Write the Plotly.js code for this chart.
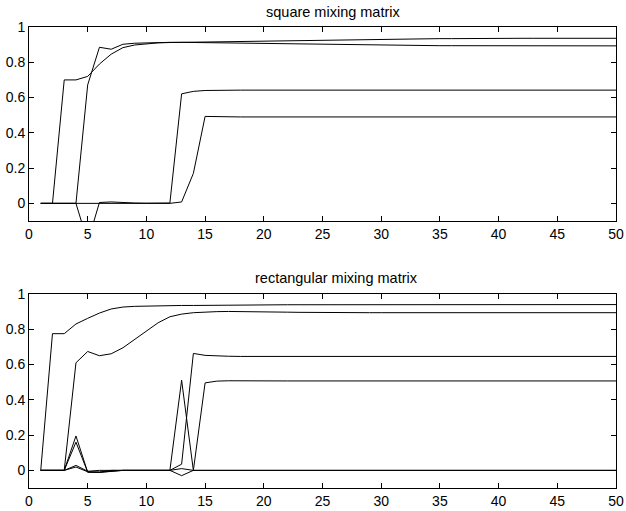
<!DOCTYPE html>
<html>
<head>
<meta charset="utf-8">
<script src="https://cdn.plot.ly/plotly-3.0.1.min.js"></script>
<style>html,body{margin:0;padding:0;background:#fff;}#chart{width:626px;height:511px;}</style>
</head>
<body>
<div id="chart"></div>
<script>
var iterations = [1,2,3,4,5,6,7,8,9,10,11,12,13,14,15,16,17,18,19,20,21,22,23,24,25,26,27,28,29,30,31,32,33,34,35,36,37,38,39,40,41,42,43,44,45,46,47,48,49,50];

var xTickVals = [0,5,10,15,20,25,30,35,40,45,50];
var yTickVals = [0,0.2,0.4,0.6,0.8,1];
var yTickText = ["0","0.2","0.4","0.6","0.8","1"];

var titleTop = "square mixing matrix";
var titleBottom = "rectangular mixing matrix";

// square mixing matrix
var sq1 = [0,0,0.70,0.70,0.72,0.79,0.846,0.883,0.898,0.906,
  0.910,0.912,0.913,0.914,0.915,0.916,0.917,0.919,0.920,0.922,
  0.923,0.924,0.925,0.926,0.927,0.928,0.929,0.930,0.931,0.932,
  0.932,0.933,0.933,0.934,0.934,0.934,0.935,0.935,0.935,0.935,
  0.936,0.936,0.936,0.936,0.936,0.936,0.936,0.936,0.936,0.936];
var sq2 = [0,0,0,0,0.672,0.885,0.874,0.902,0.908,0.911,
  0.912,0.913,0.913,0.912,0.911,0.910,0.909,0.908,0.907,0.906,
  0.905,0.904,0.903,0.902,0.901,0.900,0.899,0.898,0.897,0.896,
  0.896,0.895,0.895,0.894,0.894,0.894,0.894,0.893,0.893,0.893,
  0.893,0.893,0.893,0.893,0.893,0.893,0.893,0.893,0.893,0.893];
var sq3 = [0,0,0,0,-0.22,0.005,0.008,0.004,0.002,0.001,
  0.001,0.002,0.621,0.635,0.640,0.642,0.642,0.642,0.642,0.642,
  0.642,0.642,0.642,0.642,0.642,0.642,0.642,0.642,0.642,0.642,
  0.642,0.642,0.642,0.642,0.642,0.642,0.642,0.642,0.642,0.642,
  0.642,0.642,0.642,0.642,0.642,0.642,0.642,0.642,0.642,0.642];
var sq4 = [0,0,0,0,0,0.003,0.004,0.002,0.001,0,
  0,0,0.008,0.17,0.493,0.491,0.490,0.490,0.490,0.490,
  0.490,0.490,0.490,0.490,0.490,0.490,0.490,0.490,0.490,0.490,
  0.490,0.490,0.490,0.490,0.490,0.490,0.490,0.490,0.490,0.490,
  0.490,0.490,0.490,0.490,0.490,0.490,0.490,0.490,0.490,0.490];

// rectangular mixing matrix
var re1 = [0,0.775,0.775,0.83,0.862,0.892,0.915,0.926,0.930,0.932,
  0.933,0.934,0.935,0.935,0.936,0.937,0.937,0.938,0.938,0.938,
  0.939,0.939,0.939,0.939,0.940,0.940,0.940,0.940,0.940,0.940,
  0.940,0.940,0.940,0.940,0.940,0.940,0.940,0.940,0.940,0.940,
  0.940,0.940,0.940,0.940,0.940,0.940,0.940,0.940,0.940,0.940];
var re2 = [0,0,0,0.61,0.674,0.65,0.661,0.695,0.742,0.794,
  0.837,0.871,0.886,0.894,0.898,0.900,0.901,0.901,0.900,0.899,
  0.898,0.897,0.896,0.895,0.894,0.894,0.894,0.894,0.894,0.894,
  0.894,0.894,0.894,0.894,0.894,0.894,0.894,0.894,0.894,0.894,
  0.894,0.894,0.894,0.894,0.894,0.894,0.894,0.894,0.894,0.894];
var re3 = [0,0,0,0.195,-0.01,-0.012,-0.005,0,0,0,
  0,0,0.035,0.663,0.652,0.648,0.647,0.646,0.646,0.646,
  0.646,0.646,0.646,0.646,0.646,0.646,0.646,0.646,0.646,0.646,
  0.646,0.646,0.646,0.646,0.646,0.646,0.646,0.646,0.646,0.646,
  0.646,0.646,0.646,0.646,0.646,0.646,0.646,0.646,0.646,0.646];
var re4 = [0,0,0,0.16,-0.01,-0.01,-0.004,0,0,0,
  0,0,0.01,0,0.496,0.506,0.508,0.507,0.507,0.507,
  0.507,0.507,0.507,0.507,0.507,0.507,0.507,0.507,0.507,0.507,
  0.507,0.507,0.507,0.507,0.507,0.507,0.507,0.507,0.507,0.507,
  0.507,0.507,0.507,0.507,0.507,0.507,0.507,0.507,0.507,0.507];
var re5 = [0,0,0,0.028,-0.005,0,0,0,0,0,
  0,0,0.511,0,0,0,0,0,0,0,
  0,0,0,0,0,0,0,0,0,0,
  0,0,0,0,0,0,0,0,0,0,
  0,0,0,0,0,0,0,0,0,0];
var re6 = [0,0,0,0.019,-0.008,-0.01,0,0,0,0,
  0,0,-0.03,0,0,0,0,0,0,0,
  0,0,0,0,0,0,0,0,0,0,
  0,0,0,0,0,0,0,0,0,0,
  0,0,0,0,0,0,0,0,0,0];

var topSeries = [sq1, sq2, sq3, sq4];
var bottomSeries = [re1, re2, re3, re4, re5, re6];

var lineStyle = {color: "#000", width: 1};
var traces = [];
topSeries.forEach(function (s) {
  traces.push({x: iterations, y: s, type: "scatter", mode: "lines", line: lineStyle, xaxis: "x", yaxis: "y", hoverinfo: "skip"});
});
bottomSeries.forEach(function (s) {
  traces.push({x: iterations, y: s, type: "scatter", mode: "lines", line: lineStyle, xaxis: "x2", yaxis: "y2", hoverinfo: "skip"});
});

var font = {family: "Liberation Sans, Arial, Helvetica, sans-serif", size: 14, color: "#000"};

function xAxis(domainY, anchor) {
  return {
    domain: [29/626, 616/626], anchor: anchor, range: [0, 50],
    tickvals: xTickVals, ticks: "inside", ticklen: 5, tickwidth: 1, tickcolor: "#000",
    showline: true, linecolor: "#000", linewidth: 1, mirror: "ticks",
    showgrid: false, zeroline: false, tickfont: font, fixedrange: true
  };
}
function yAxis(domainY, anchor) {
  return {
    domain: domainY, anchor: anchor, range: [-0.1, 1],
    tickvals: yTickVals, ticktext: yTickText, ticks: "inside", ticklen: 5, tickwidth: 1, tickcolor: "#000",
    showline: true, linecolor: "#000", linewidth: 1, mirror: "ticks",
    showgrid: false, zeroline: false, tickfont: font, fixedrange: true
  };
}

var layout = {
  width: 626, height: 511,
  margin: {l: 0, r: 0, t: 0, b: 0},
  paper_bgcolor: "#fff", plot_bgcolor: "#fff",
  showlegend: false,
  font: font,
  xaxis: xAxis(null, "y"),
  yaxis: yAxis([1 - 221/511, 1 - 27/511], "x"),
  xaxis2: xAxis(null, "y2"),
  yaxis2: yAxis([1 - 488/511, 1 - 294/511], "x2"),
  annotations: [
    {text: titleTop, xref: "paper", yref: "paper", x: 333/626, y: 1 - 11.5/511, xanchor: "center", yanchor: "middle", showarrow: false, font: {family: font.family, size: 14.5, color: "#000"}},
    {text: titleBottom, xref: "paper", yref: "paper", x: 336/626, y: 1 - 277.5/511, xanchor: "center", yanchor: "middle", showarrow: false, font: {family: font.family, size: 14.5, color: "#000"}}
  ]
};

Plotly.newPlot("chart", traces, layout, {displayModeBar: false, staticPlot: true});
</script>
</body>
</html>
